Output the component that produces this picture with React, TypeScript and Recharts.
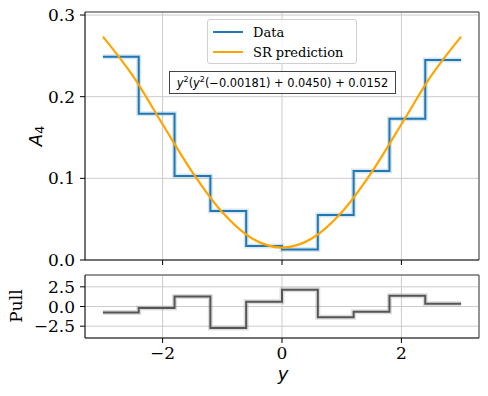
import React from 'react';
import {
  ComposedChart,
  Line,
  XAxis,
  YAxis,
  CartesianGrid,
  Legend,
  ReferenceLine,
} from 'recharts';

// bin edges in y and the measured A4 per bin
const binEdges = [-3, -2.4, -1.8, -1.2, -0.6, 0, 0.6, 1.2, 1.8, 2.4, 3];
const a4Values = [0.249, 0.179, 0.103, 0.06, 0.017, 0.013, 0.055, 0.109, 0.173, 0.245];
const pullValues = [-0.77, -0.2, 1.28, -2.73, 0.6, 2.14, -1.36, -0.68, 1.37, 0.35];

// SR prediction
const curveX = [-3, -2.5, -2, -1.5, -1, -0.5, 0, 0.5, 1, 1.5, 2, 2.5, 3];
const curveA4 = [0.2736, 0.2257, 0.1662, 0.1073, 0.0584, 0.0263, 0.0152, 0.0263, 0.0584, 0.1073, 0.1662, 0.2257, 0.2736];

const xTicks = [-2, 0, 2];
const a4Ticks = [0, 0.1, 0.2, 0.3];
const pullTicks = [-2.5, 0, 2.5];

const X_DOMAIN: [number, number] = [-3.3, 3.3];
const A4_DOMAIN: [number, number] = [0, 0.3037];
const PULL_DOMAIN: [number, number] = [-4, 4];

const SERIF = '"DejaVu Serif", serif';
const SANS = '"DejaVu Sans", sans-serif';
const GRID = '#cccccc';

const stepData = (vals: number[]) =>
  binEdges.map((x, i) => ({ x, v: vals[Math.min(i, vals.length - 1)] }));

const a4Steps = stepData(a4Values);
const pullSteps = stepData(pullValues);
const curveData = curveX.map((x, i) => ({ x, v: curveA4[i] }));

const minus = (s: string) => s.replace('-', '\u2212');

const tickStyle = { fontFamily: SERIF, fontSize: 17, fill: '#000' };

const LegendBox = ({ payload }: any) => {
  const items = (payload || []).filter((p: any) => p.type !== 'none');
  return (
    <div
      style={{
        width: 150,
        height: 45,
        boxSizing: 'border-box',
        border: '1px solid #d0d0d0',
        borderRadius: 3,
        background: 'rgba(255,255,255,0.8)',
        paddingTop: 2,
      }}
    >
      {items.map((it: any) => (
        <div key={it.value} style={{ display: 'flex', alignItems: 'center', height: 20 }}>
          <div style={{ width: 30, height: 2, background: it.color, marginLeft: 5 }} />
          <span style={{ marginLeft: 10, fontFamily: SERIF, fontSize: 13, color: '#000' }}>{it.value}</span>
        </div>
      ))}
    </div>
  );
};

const sup = { fontSize: '0.7em', verticalAlign: 'super', lineHeight: 0 } as React.CSSProperties;

export default function App() {
  return (
    <div style={{ position: 'absolute', left: 0, top: 0, width: 488, height: 396, background: '#fff' }}>
      <div style={{ position: 'absolute', left: 0, top: 0 }}>
        <ComposedChart width={488} height={272} margin={{ top: 12, right: 9, left: 25, bottom: 0 }}>
          <CartesianGrid stroke={GRID} strokeWidth={1} />
          <XAxis
            type="number"
            dataKey="x"
            domain={X_DOMAIN}
            ticks={xTicks}
            interval={0}
            allowDataOverflow
            height={12}
            tickSize={5}
            tickFormatter={() => ''}
            axisLine={{ stroke: '#000' }}
            tickLine={{ stroke: '#000' }}
          />
          <YAxis
            type="number"
            domain={A4_DOMAIN}
            ticks={a4Ticks}
            interval={0}
            allowDataOverflow
            width={60}
            tickSize={5}
            tickMargin={5}
            tick={tickStyle}
            tickFormatter={(v: number) => v.toFixed(1)}
            axisLine={{ stroke: '#000' }}
            tickLine={{ stroke: '#000' }}
            label={{
              content: () => (
                <text
                  x={35}
                  y={136}
                  transform="rotate(-90, 35, 136)"
                  textAnchor="middle"
                  dominantBaseline="central"
                  fontFamily={SANS}
                  fontSize={18}
                  fill="#000"
                >
                  <tspan fontStyle="italic">A</tspan>
                  <tspan fontSize={12.5} dy={4}>4</tspan>
                </text>
              ),
            }}
          />
          <ReferenceLine y={A4_DOMAIN[1]} stroke="#444" strokeWidth={1} />
          <ReferenceLine x={X_DOMAIN[1]} stroke="#444" strokeWidth={1} />
          <Line
            data={a4Steps}
            dataKey="v"
            type="stepAfter"
            stroke="#1f77b4"
            strokeOpacity={0.18}
            strokeWidth={5}
            dot={false}
            legendType="none"
            isAnimationActive={false}
          />
          <Line
            data={a4Steps}
            dataKey="v"
            name="Data"
            type="stepAfter"
            stroke="#1f77b4"
            strokeWidth={2}
            dot={false}
            isAnimationActive={false}
          />
          <Line
            data={curveData}
            dataKey="v"
            name="SR prediction"
            type="monotone"
            stroke="#ffa500"
            strokeWidth={2.2}
            dot={false}
            isAnimationActive={false}
          />
          <Legend
            layout="vertical"
            align="center"
            verticalAlign="middle"
            content={<LegendBox />}
            wrapperStyle={{ position: 'absolute', left: 207, top: 19, width: 150, height: 45 }}
          />
        </ComposedChart>
        <div
          style={{
            position: 'absolute',
            left: 169,
            top: 71,
            width: 227,
            height: 23,
            boxSizing: 'border-box',
            border: '1.3px solid #444',
            background: 'rgba(255,255,255,0.8)',
            fontFamily: SANS,
            fontSize: 11.4,
            color: '#000',
            display: 'flex',
            alignItems: 'center',
            justifyContent: 'center',
            whiteSpace: 'nowrap',
          }}
        >
          <span>
            <i>y</i>
            <span style={sup}>2</span>(<i>y</i>
            <span style={sup}>2</span>({'\u2212'}0.00181) + 0.0450) + 0.0152
          </span>
        </div>
      </div>

      <div style={{ position: 'absolute', left: 0, top: 272 }}>
        <ComposedChart width={488} height={124} margin={{ top: 3, right: 9, left: 25, bottom: 0 }}>
          <CartesianGrid stroke={GRID} strokeWidth={1} />
          <XAxis
            type="number"
            dataKey="x"
            domain={X_DOMAIN}
            ticks={xTicks}
            interval={0}
            allowDataOverflow
            height={58}
            tickSize={5}
            tickMargin={4}
            tick={tickStyle}
            tickFormatter={(v: number) => minus(String(v))}
            axisLine={{ stroke: '#000' }}
            tickLine={{ stroke: '#000' }}
            label={{
              content: () => (
                <text
                  x={283}
                  y={108}
                  textAnchor="middle"
                  fontFamily={SANS}
                  fontStyle="italic"
                  fontSize={18}
                  fill="#000"
                >
                  y
                </text>
              ),
            }}
          />
          <YAxis
            type="number"
            domain={PULL_DOMAIN}
            ticks={pullTicks}
            interval={0}
            allowDataOverflow
            width={60}
            tickSize={5}
            tickMargin={5}
            tick={tickStyle}
            tickFormatter={(v: number) => minus(v.toFixed(1))}
            axisLine={{ stroke: '#000' }}
            tickLine={{ stroke: '#000' }}
            label={{
              content: () => (
                <text
                  x={16}
                  y={34}
                  transform="rotate(-90, 16, 34)"
                  textAnchor="middle"
                  dominantBaseline="central"
                  fontFamily={SERIF}
                  fontSize={17}
                  fill="#000"
                >
                  Pull
                </text>
              ),
            }}
          />
          <ReferenceLine y={PULL_DOMAIN[1]} stroke="#444" strokeWidth={1} />
          <ReferenceLine x={X_DOMAIN[1]} stroke="#444" strokeWidth={1} />
          <Line
            data={pullSteps}
            dataKey="v"
            type="stepAfter"
            stroke="#555"
            strokeOpacity={0.2}
            strokeWidth={5}
            dot={false}
            isAnimationActive={false}
          />
          <Line
            data={pullSteps}
            dataKey="v"
            type="stepAfter"
            stroke="#555"
            strokeWidth={2}
            dot={false}
            isAnimationActive={false}
          />
        </ComposedChart>
      </div>
    </div>
  );
}
